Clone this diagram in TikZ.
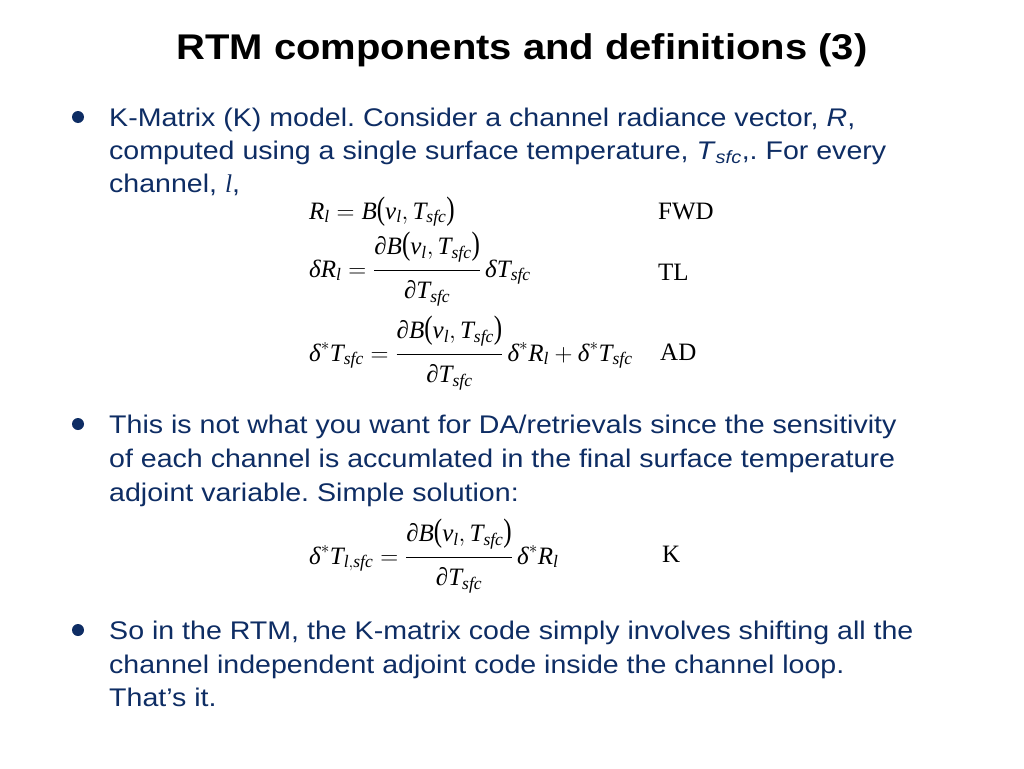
\documentclass[tikz,border=0pt]{standalone}
\usepackage{amsmath}
\usepackage{fontspec}
\setmainfont{Liberation Sans}[FakeStretch=1.12]
\newfontfamily\tms{Liberation Serif}
\definecolor{navy}{RGB}{14,45,100}
\newcommand{\ti}[1]{\text{\tms\itshape #1}}
\newcommand{\tr}[1]{\text{\tms #1}}
\newcommand{\lpar}{\mathopen{\text{\tms\scalebox{1}[1.3]{(}}}}
\newcommand{\rpar}{\mathclose{\text{\tms\scalebox{1}[1.3]{)}}}}
\newcommand{\Bfun}{\ti{B}\lpar\ti{ν}_{\ti{l}},\ti{T}_{\ti{sfc}}\rpar}
\newcommand{\numstrut}{\rule[-13pt]{0pt}{1pt}}
\newcommand{\denstrut}{\rule{0pt}{24pt}}
\newcommand{\dBdT}{\dfrac{\tr{∂}\Bfun\numstrut}{\denstrut\tr{∂}\ti{T}_{\ti{sfc}}}\,}
\tikzset{
  titletext/.style={font=\fontsize{35.7}{40}\selectfont\bfseries, text=black, inner sep=0pt},
  bodyline/.style={font=\fontsize{25.5}{30}\selectfont, text=navy, anchor=base west, inner sep=0pt},
  eqn/.style={font=\fontsize{25}{30}\selectfont\tms, text=black, anchor=base west, inner sep=0pt},
  eqlabel/.style={font=\fontsize{25}{30}\selectfont\tms, text=black, anchor=base west, inner sep=0pt},
  bulletdot/.style={circle, fill=navy, minimum size=12pt, inner sep=0pt}
}
\begin{document}
\frenchspacing
\begin{tikzpicture}[x=1pt,y=-1pt]
\useasboundingbox (0,0) rectangle (1024,768);
\fill[white] (0,0) rectangle (1024,768);
\node[titletext] (title) at (522,50) {RTM components and definitions (3)};
% bullet 1
\node[bulletdot] (b1) at (78,117) {};
\node[bodyline] (t1a) at (109,126) {K-Matrix (K) model. Consider a channel radiance vector, \textit{R},};
\node[bodyline] (t1b) at (109,159) {computed using a single surface temperature, \textit{T}\textsubscript{\textit{sfc}},. For every};
\node[bodyline] (t1c) at (109,192) {channel, {\tms\itshape l},};
% equations
\node[eqn] (e1) at (309,219) {$\ti{R}_{\ti{l}} = \Bfun$};
\node[eqlabel] (l1) at (658,219) {FWD};
\node[eqn] (e2) at (309,277) {$\ti{δR}_{\ti{l}} = \dBdT\ti{δT}_{\ti{sfc}}$};
\node[eqlabel] (l2) at (658,280) {TL};
\node[eqn] (e3) at (309,361) {$\ti{δ}^{*}\ti{T}_{\ti{sfc}} = \dBdT\ti{δ}^{*}\ti{R}_{\ti{l}} + \ti{δ}^{*}\ti{T}_{\ti{sfc}}$};
\node[eqlabel] (l3) at (660,360) {AD};
% bullet 2
\node[bulletdot] (b2) at (78,424) {};
\node[bodyline] (t2a) at (109,433) {This is not what you want for DA/retrievals since the sensitivity};
\node[bodyline] (t2b) at (109,467) {of each channel is accumlated in the final surface temperature};
\node[bodyline] (t2c) at (109,501) {adjoint variable. Simple solution:};
\node[eqn] (e4) at (309,564) {$\ti{δ}^{*}\ti{T}_{\ti{l},\ti{sfc}} = \dBdT\ti{δ}^{*}\ti{R}_{\ti{l}}$};
\node[eqlabel] (l4) at (662,562) {K};
% bullet 3
\node[bulletdot] (b3) at (78,630) {};
\node[bodyline] (t3a) at (109,639) {So in the RTM, the K-matrix code simply involves shifting all the};
\node[bodyline] (t3b) at (109,673) {channel independent adjoint code inside the channel loop.};
\node[bodyline] (t3c) at (109,706) {That’s it.};
\end{tikzpicture}
\end{document}
